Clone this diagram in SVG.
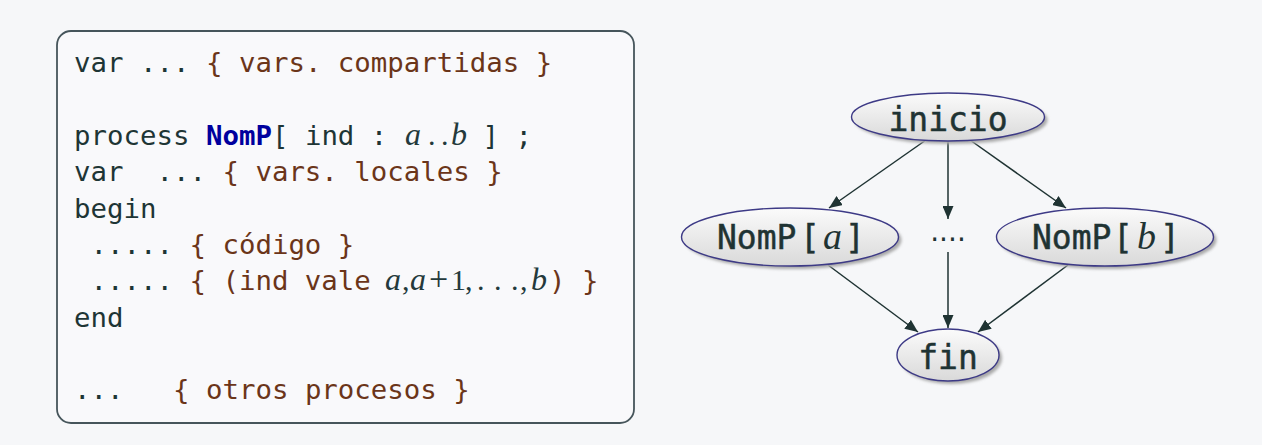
<svg xmlns="http://www.w3.org/2000/svg" width="1262" height="445" viewBox="0 0 1262 445">
<defs>
<style>
.code{font-family:"DejaVu Sans Mono","Liberation Mono",monospace;font-size:27.4px;fill:#1e3535;}
.cm{fill:#6b3519;}
.kw{fill:#00009e;font-weight:bold;}
.mi{font-family:"Liberation Serif","DejaVu Serif",serif;font-style:italic;font-size:32px;fill:#24393b;}
.mr{font-family:"Liberation Serif","DejaVu Serif",serif;font-size:30px;fill:#24393b;}
.lbl{font-family:"DejaVu Sans Mono","Liberation Mono",monospace;font-size:33px;fill:#1f3333;stroke:#1f3333;stroke-width:0.5px;}
.lmi{font-family:"Liberation Serif","DejaVu Serif",serif;font-style:italic;font-size:38px;stroke:none;}
.node{fill:url(#ng);stroke:#3d3a86;stroke-width:1.4;}
.shadow{fill:#a9a9a9;filter:url(#blur);}
.edge{stroke:#1f3333;stroke-width:1.5;fill:none;marker-end:url(#arr);}
</style>
<linearGradient id="ng" x1="0" y1="0" x2="0" y2="1">
<stop offset="0" stop-color="#fbfbfb"/>
<stop offset="1" stop-color="#d9d9d9"/>
</linearGradient>
<filter id="blur" x="-20%" y="-30%" width="140%" height="160%"><feGaussianBlur stdDeviation="1.5"/></filter>
<marker id="arr" markerUnits="userSpaceOnUse" markerWidth="13" markerHeight="11" refX="13" refY="5.5" orient="auto">
<path d="M0,0 L13,5.5 L0,11 z" fill="#1f3333"/>
</marker>
</defs>
<rect x="0" y="0" width="1262" height="445" fill="#f6f7f9"/>

<g id="code">
<rect x="57" y="31" width="577" height="392" rx="14" ry="14" fill="#f9f9fb" stroke="#46555b" stroke-width="1.8"/>
<text class="code" x="74" y="72.3" xml:space="preserve">var ... <tspan class="cm">{ vars. compartidas }</tspan></text>
<text class="code" x="74" y="145" xml:space="preserve">process <tspan class="kw">NomP</tspan>[ ind : <tspan class="mi" x="405">a</tspan><tspan class="mr" x="428">.</tspan><tspan class="mr" x="441">.</tspan><tspan class="mi" x="451">b</tspan><tspan x="466"> ] ;</tspan></text>
<text class="code" x="74" y="181.3" xml:space="preserve">var  ... <tspan class="cm">{ vars. locales }</tspan></text>
<text class="code" x="74" y="217.6">begin</text>
<text class="code" x="74" y="254" xml:space="preserve"> ..... <tspan class="cm">{ código }</tspan></text>
<text class="code" x="74" y="290.3" xml:space="preserve"> ..... <tspan class="cm">{ (ind vale </tspan><tspan class="mi" x="385">a</tspan><tspan class="mr" x="402">,</tspan><tspan class="mi" x="410">a</tspan><tspan class="mr" x="429" style="font-size:34px">+</tspan><tspan class="mr" x="451">1</tspan><tspan class="mr" x="465">,</tspan><tspan class="mr" x="477">.</tspan><tspan class="mr" x="494">.</tspan><tspan class="mr" x="511">.</tspan><tspan class="mr" x="520">,</tspan><tspan class="mi" x="531">b</tspan><tspan class="cm" x="549">) }</tspan></text>
<text class="code" x="74" y="326.6">end</text>
<text class="code" x="74" y="399.3" xml:space="preserve">...   <tspan class="cm">{ otros procesos }</tspan></text>
</g>

<g id="edges">
<line class="edge" x1="926" y1="140" x2="829" y2="208"/>
<line class="edge" x1="948" y1="141" x2="948" y2="219"/>
<line class="edge" x1="970" y1="140" x2="1066" y2="208"/>
<line class="edge" x1="828" y1="265" x2="918" y2="332"/>
<line class="edge" x1="948" y1="252" x2="948" y2="328"/>
<line class="edge" x1="1068" y1="265" x2="978" y2="332"/>
</g>

<g id="inicio">
<ellipse class="shadow" cx="951" cy="120" rx="96.5" ry="24"/>
<ellipse class="node" cx="948" cy="117" rx="96.5" ry="24"/>
<text class="lbl" x="948" y="131" text-anchor="middle">inicio</text>
</g>

<g id="nompa">
<ellipse class="shadow" cx="793" cy="240" rx="108.5" ry="29"/>
<ellipse class="node" cx="790" cy="237" rx="108.5" ry="29"/>
<text class="lbl" y="248.5"><tspan x="717">NomP</tspan><tspan x="800">[</tspan><tspan class="lmi" x="823">a</tspan><tspan x="845">]</tspan></text>
</g>

<g id="dots">
<text x="948" y="241" text-anchor="middle" style="font-family:'DejaVu Sans',sans-serif;font-size:28px;fill:#1f3333">....</text>
</g>

<g id="nompb">
<ellipse class="shadow" cx="1108" cy="240" rx="108.5" ry="29"/>
<ellipse class="node" cx="1105" cy="237" rx="108.5" ry="29"/>
<text class="lbl" y="248.5"><tspan x="1032">NomP</tspan><tspan x="1113">[</tspan><tspan class="lmi" x="1137">b</tspan><tspan x="1160">]</tspan></text>
</g>

<g id="fin">
<ellipse class="shadow" cx="951" cy="358" rx="51" ry="26"/>
<ellipse class="node" cx="948" cy="355" rx="51" ry="26"/>
<text class="lbl" x="948" y="368.5" text-anchor="middle">fin</text>
</g>
</svg>
